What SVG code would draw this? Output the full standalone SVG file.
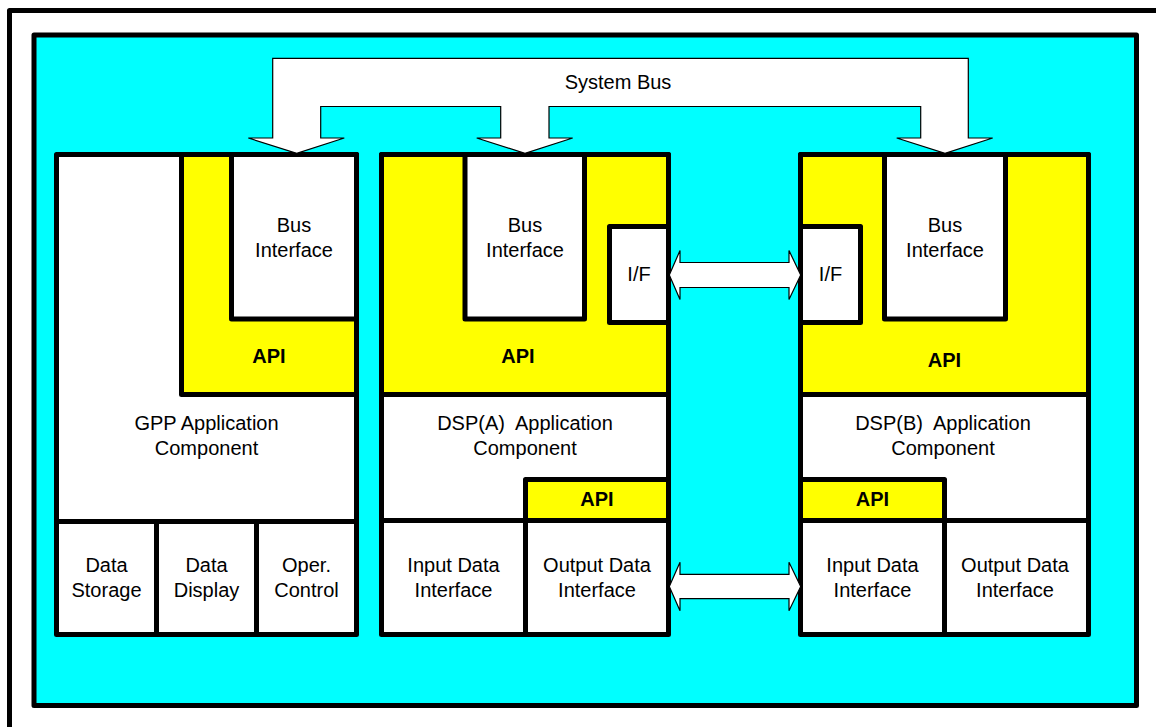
<svg xmlns="http://www.w3.org/2000/svg" width="1156" height="727" viewBox="0 0 1156 727">
<style>
.b{stroke:#000;stroke-width:5;stroke-linejoin:round}
.w{fill:#fff}
.y{fill:#ffff00}
.ln{stroke:#000;stroke-width:5;fill:none;stroke-linecap:square}
.ar{fill:#fff;stroke:#000;stroke-width:1.2;stroke-linejoin:miter}
text{font-family:"Liberation Sans",Arial,sans-serif;font-size:20px;fill:#000;text-anchor:middle}
.bd{font-weight:bold}
.pre{white-space:pre}
</style>
<rect x="0" y="0" width="1156" height="727" fill="#fff"/>
<rect x="9.5" y="10.5" width="1165" height="735" fill="none" class="b"/>
<rect id="background" x="34" y="35" width="1102.5" height="670.5" fill="#00ffff" class="b"/>

<g id="gpp">
<rect x="56.5" y="154.5" width="300" height="480" class="b w"/>
<rect x="181.5" y="154.5" width="175" height="240" class="b y"/>
<rect x="231.5" y="154.5" width="125" height="164.5" class="b w"/>
<line x1="56.5" y1="521.5" x2="356.5" y2="521.5" class="ln"/>
<line x1="156.5" y1="521.5" x2="156.5" y2="634.5" class="ln"/>
<line x1="256.5" y1="521.5" x2="256.5" y2="634.5" class="ln"/>
<text x="294" y="232">Bus</text>
<text x="294" y="257">Interface</text>
<text x="269" y="363" class="bd">API</text>
<text x="206.5" y="430">GPP Application</text>
<text x="206.5" y="455">Component</text>
<text x="106.5" y="572">Data</text>
<text x="106.5" y="597">Storage</text>
<text x="206.5" y="572">Data</text>
<text x="206.5" y="597">Display</text>
<text x="306.5" y="572">Oper.</text>
<text x="306.5" y="597">Control</text>
</g>

<g id="dspa">
<rect x="381.5" y="154.5" width="287" height="480" class="b w"/>
<rect x="381.5" y="154.5" width="287" height="240" class="b y"/>
<rect x="465" y="154.5" width="119.5" height="164.5" class="b w"/>
<rect x="609.5" y="226.5" width="59" height="96" class="b w"/>
<rect x="525.5" y="479.5" width="143" height="41" class="b y"/>
<line x1="381.5" y1="520.5" x2="668.5" y2="520.5" class="ln"/>
<line x1="525.5" y1="520.5" x2="525.5" y2="634.5" class="ln"/>
<text x="525" y="232">Bus</text>
<text x="525" y="257">Interface</text>
<text x="639" y="281">I/F</text>
<text x="518" y="363" class="bd">API</text>
<text x="525" y="430" class="pre">DSP(A)  Application</text>
<text x="525" y="455">Component</text>
<text x="597" y="506" class="bd">API</text>
<text x="453.5" y="572">Input Data</text>
<text x="453.5" y="597">Interface</text>
<text x="597" y="572">Output Data</text>
<text x="597" y="597">Interface</text>
</g>

<g id="dspb">
<rect x="800.5" y="154.5" width="288" height="480" class="b w"/>
<rect x="800.5" y="154.5" width="288" height="240" class="b y"/>
<rect x="884.5" y="154.5" width="121" height="164.5" class="b w"/>
<rect x="800.5" y="226.5" width="60" height="96" class="b w"/>
<rect x="800.5" y="479.5" width="144" height="41" class="b y"/>
<line x1="800.5" y1="520.5" x2="1088.5" y2="520.5" class="ln"/>
<line x1="944.5" y1="520.5" x2="944.5" y2="634.5" class="ln"/>
<text x="945" y="232">Bus</text>
<text x="945" y="257">Interface</text>
<text x="830.5" y="281">I/F</text>
<text x="944.5" y="367" class="bd">API</text>
<text x="943" y="430" class="pre">DSP(B)  Application</text>
<text x="943" y="455">Component</text>
<text x="872.5" y="506" class="bd">API</text>
<text x="872.5" y="572">Input Data</text>
<text x="872.5" y="597">Interface</text>
<text x="1015" y="572">Output Data</text>
<text x="1015" y="597">Interface</text>
</g>

<g id="connectors">
<path class="ar" d="M272.7,58.3 H968.3 V138 H992.7 L945,153.3 L896.7,138 H920.7 V106.5 H549 V138 H572.7 L525,153.3 L476.7,138 H500.7 V106.5 H320.7 V138 H344.3 L296.7,153.3 L248.3,138 H272.7 Z"/>
<text x="618" y="89">System Bus</text>
<path class="ar" d="M669.3,275 L680,250.5 V262.5 H789 V250.5 L800.7,275 L789,299.5 V287.5 H680 V299.5 Z"/>
<path class="ar" d="M669.3,586.5 L680,562.3 V574.3 H789 V562.3 L800.7,586.5 L789,610.7 V598.7 H680 V610.7 Z"/>
</g>
</svg>
